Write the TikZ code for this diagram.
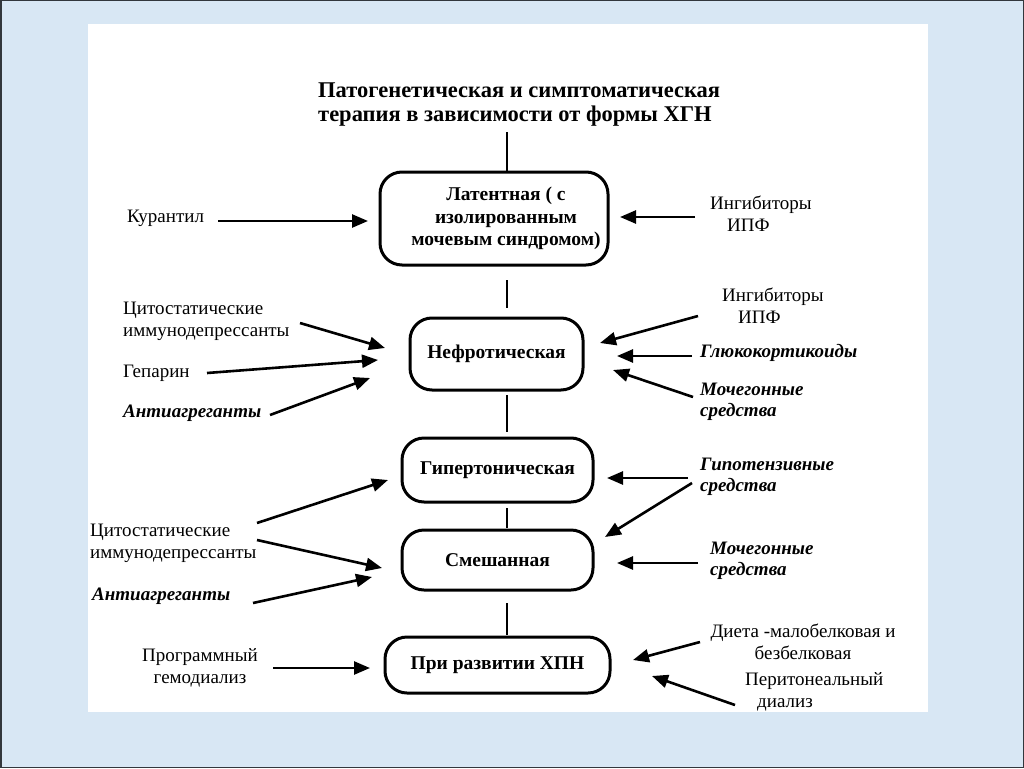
\documentclass[tikz,border=0pt]{standalone}
\usepackage{fontspec}
\setmainfont{Liberation Serif}
\usetikzlibrary{arrows.meta}
\definecolor{bgblue}{RGB}{216,231,244}
\definecolor{frame}{RGB}{50,55,60}
\tikzset{
  boxnode/.style={draw=black, line width=3pt, rounded corners=22pt, align=center, inner sep=0pt,
    font={\fontsize{19.5}{22.5}\selectfont\bfseries}},
  lbl/.style={anchor=west, align=left, inner sep=0pt, font={\fontsize{19}{22}\selectfont}},
  lblc/.style={anchor=center, align=center, inner sep=0pt, font={\fontsize{19}{22}\selectfont}},
  lblbi/.style={anchor=west, align=left, inner sep=0pt, font={\fontsize{19}{21}\selectfont\bfseries\itshape}},
  arr/.style={draw=black, line width=2.6pt, -{Triangle[length=16pt,width=13pt]}},
  vline/.style={draw=black, line width=2.2pt}
}
\begin{document}
\begin{tikzpicture}[x=1pt,y=-1pt]
\useasboundingbox (0,0) rectangle (1024,768);
\fill[bgblue] (0,0) rectangle (1024,768);
\draw[frame, line width=1.5pt] (0.75,0.75) rectangle (1023.25,767.25);
\fill[white] (88,24) rectangle (928,712);

% title
\node[anchor=west, align=left, inner sep=0pt, font={\fontsize{22.5}{24}\selectfont\bfseries}] (title) at (318,105)
  {Патогенетическая и симптоматическая\\терапия в зависимости от формы ХГН};

% boxes
\node[boxnode, minimum width=228pt, minimum height=93pt] (lat) at (494,218.5)
  {\hspace*{24pt}Латентная ( с\\\hspace*{24pt}изолированным\\\hspace*{24pt}мочевым синдромом)};
\node[boxnode, minimum width=173pt, minimum height=72pt] (neph) at (496.5,354) {Нефротическая};
\node[boxnode, minimum width=191pt, minimum height=64pt] (hyp) at (497.5,470) {Гипертоническая};
\node[boxnode, minimum width=191pt, minimum height=60pt] (mix) at (497.5,560) {Смешанная};
\node[boxnode, minimum width=225pt, minimum height=56pt] (chn) at (497.5,665) {При развитии ХПН};

% vertical connectors
\coordinate (v1a) at (507,132); \coordinate (v1b) at (507,172);
\coordinate (v2a) at (507,280); \coordinate (v2b) at (507,308);
\coordinate (v3a) at (507,395); \coordinate (v3b) at (507,432);
\coordinate (v4a) at (507,508); \coordinate (v4b) at (507,528);
\coordinate (v5a) at (507,603); \coordinate (v5b) at (507,635);
\draw[vline] (v1a) -- (v1b);
\draw[vline] (v2a) -- (v2b);
\draw[vline] (v3a) -- (v3b);
\draw[vline] (v4a) -- (v4b);
\draw[vline] (v5a) -- (v5b);

% labels
\node[lbl] (kur) at (127,218) {Курантил};
\node[lbl] (ipf1) at (710,214) {Ингибиторы\\\hspace*{17pt}ИПФ};
\node[lbl] (cyt1) at (123,321.5) {Цитостатические\\иммунодепрессанты};
\node[lbl] (gep) at (123,373) {Гепарин};
\node[lblbi] (anti1) at (123,413) {Антиагреганты};
\node[lbl] (ipf2) at (722,306) {Ингибиторы\\\hspace*{16pt}ИПФ};
\node[lblbi] (gluc) at (700,353) {Глюкокортикоиды};
\node[lblbi] (moch1) at (700,402) {Мочегонные\\средства};
\node[lbl] (cyt2) at (90,543) {Цитостатические\\иммунодепрессанты};
\node[lblbi] (anti2) at (92,596) {Антиагреганты};
\node[lblbi] (hypo) at (700,477) {Гипотензивные\\средства};
\node[lblbi] (moch2) at (710,561) {Мочегонные\\средства};
\node[lblc] (hemo) at (200,667.5) {Программный\\гемодиализ};
\node[lblc] (diet) at (803,642) {Диета -малобелковая и\\безбелковая};
\node[lbl] (perit) at (745,691.5) {Перитонеальный\\\hspace*{12pt}диализ};

% arrow endpoints
\coordinate (a1s) at (218,221); \coordinate (a1e) at (368,221);
\coordinate (a2s) at (695,217); \coordinate (a2e) at (620,217);
\coordinate (a3s) at (300,323); \coordinate (a3e) at (385,348);
\coordinate (a4s) at (207,373); \coordinate (a4e) at (378,360);
\coordinate (a5s) at (270,415); \coordinate (a5e) at (370,378);
\coordinate (a6s) at (698,316); \coordinate (a6e) at (600,343);
\coordinate (a7s) at (692,356); \coordinate (a7e) at (617,356);
\coordinate (a8s) at (693,397); \coordinate (a8e) at (613,370);
\coordinate (a9s) at (257,523); \coordinate (a9e) at (388,480);
\coordinate (a10s) at (257,540); \coordinate (a10e) at (382,568);
\coordinate (a11s) at (253,603); \coordinate (a11e) at (372,577);
\coordinate (a12s) at (688,478); \coordinate (a12e) at (607,478);
\coordinate (a13s) at (692,483); \coordinate (a13e) at (605,537);
\coordinate (a14s) at (698,563); \coordinate (a14e) at (617,563);
\coordinate (a15s) at (273,668); \coordinate (a15e) at (370,668);
\coordinate (a16s) at (700,642); \coordinate (a16e) at (633,660);
\coordinate (a17s) at (735,705); \coordinate (a17e) at (652,676);

\foreach \i in {1,...,17} { \draw[arr] (a\i s) -- (a\i e); }
\end{tikzpicture}
\end{document}
